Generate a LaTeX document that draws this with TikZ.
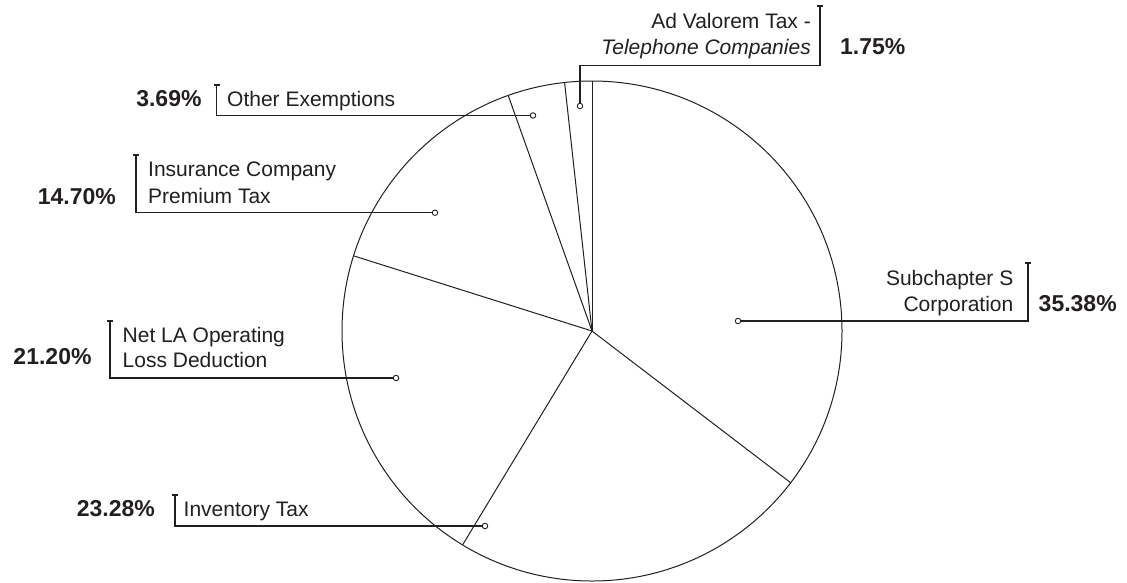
\documentclass[tikz,border=0pt]{standalone}
\usepackage{fontspec}
\setmainfont{Liberation Sans}
\usetikzlibrary{calc}
\definecolor{ink}{HTML}{231F20}
\tikzset{
  lbl/.style={inner sep=0pt, text=ink, font=\fontsize{21}{25}\selectfont},
  lbli/.style={lbl, font=\fontsize{21}{25}\selectfont\itshape},
  pct/.style={inner sep=0pt, text=ink, font=\fontsize{23}{27}\selectfont\bfseries},
  dot/.style={circle, draw=ink, fill=white, line width=0.9pt, inner sep=0pt, minimum size=5.5pt},
  leader/.style={draw=ink, line width=1.2pt},
  wedge/.style={draw=ink, line width=1pt}
}
\begin{document}
\begin{tikzpicture}[x=1pt,y=-1pt]
\useasboundingbox (0,0) rectangle (1127,582);
% pie
\coordinate (c) at (592,331);
\draw[wedge] (c) circle (250);
\foreach \a/\n in {-90/p0,37.368/p1,121.176/p2,197.496/p3,250.416/p4,263.7/p5}{
  \coordinate (\n) at ($(c)+(\a:250)$);
  \draw[wedge] (c) -- (\n);
}
% Subchapter S
\node[dot] (d1) at (738,321) {};
\coordinate (b1b) at (1028,321);
\coordinate (b1t) at (1028,263);
\draw[leader] (d1) -- (b1b) -- (b1t);
\draw[leader] ($(b1t)+(-3,0)$) -- ($(b1t)+(3,0)$);
\node[lbl, anchor=base east] (t1a) at (1013.5,285.7) {Subchapter S};
\node[lbl, anchor=base east] (t1b) at (1013.5,311.7) {Corporation};
\node[pct, anchor=base west] (v1) at (1038.5,311) {35.38\%};
% Inventory Tax
\node[dot] (d2) at (485,526) {};
\coordinate (b2b) at (175,526);
\coordinate (b2t) at (175,495);
\draw[leader] (d2) -- (b2b) -- (b2t);
\draw[leader] ($(b2t)+(-3,0)$) -- ($(b2t)+(3,0)$);
\node[lbl, anchor=base west] (t2) at (183.5,516.7) {Inventory Tax};
\node[pct, anchor=base east] (v2) at (155,516.5) {23.28\%};
% Net LA
\node[dot] (d3) at (396,378) {};
\coordinate (b3b) at (110,378);
\coordinate (b3t) at (110,321);
\draw[leader] (d3) -- (b3b) -- (b3t);
\draw[leader] ($(b3t)+(-3,0)$) -- ($(b3t)+(3,0)$);
\node[lbl, anchor=base west] (t3a) at (122.5,342.7) {Net LA Operating};
\node[lbl, anchor=base west] (t3b) at (122.5,367.3) {Loss Deduction};
\node[pct, anchor=base east] (v3) at (91.7,364.5) {21.20\%};
% Insurance
\node[dot] (d4) at (435,212.7) {};
\coordinate (b4b) at (136,212.7);
\coordinate (b4t) at (136,155);
\draw[leader] (d4) -- (b4b) -- (b4t);
\draw[leader] ($(b4t)+(-3,0)$) -- ($(b4t)+(3,0)$);
\node[lbl, anchor=base west] (t4a) at (148,176.7) {Insurance Company};
\node[lbl, anchor=base west] (t4b) at (148,203.3) {Premium Tax};
\node[pct, anchor=base east] (v4) at (116,204) {14.70\%};
% Other Exemptions
\node[dot] (d5) at (533,115.5) {};
\coordinate (b5b) at (216.5,115.5);
\coordinate (b5t) at (216.5,85);
\draw[leader] (d5) -- (b5b) -- (b5t);
\draw[leader] ($(b5t)+(-3,0)$) -- ($(b5t)+(3,0)$);
\node[lbl, anchor=base west] (t5) at (227,106.7) {Other Exemptions};
\node[pct, anchor=base east] (v5) at (201.7,106.7) {3.69\%};
% Telephone
\node[dot] (d6) at (580,106) {};
\coordinate (b6m) at (580,65.7);
\coordinate (b6b) at (820,65.7);
\coordinate (b6t) at (820,6);
\draw[leader] (d6) -- (b6m) -- (b6b) -- (b6t);
\draw[leader] ($(b6t)+(-3,0)$) -- ($(b6t)+(3,0)$);
\node[lbl, anchor=base east] (t6a) at (811,28.3) {Ad Valorem Tax -};
\node[lbli, anchor=base east] (t6b) at (811,54) {Telephone Companies};
\node[pct, anchor=base west] (v6) at (840,54) {1.75\%};
\end{tikzpicture}
\end{document}
